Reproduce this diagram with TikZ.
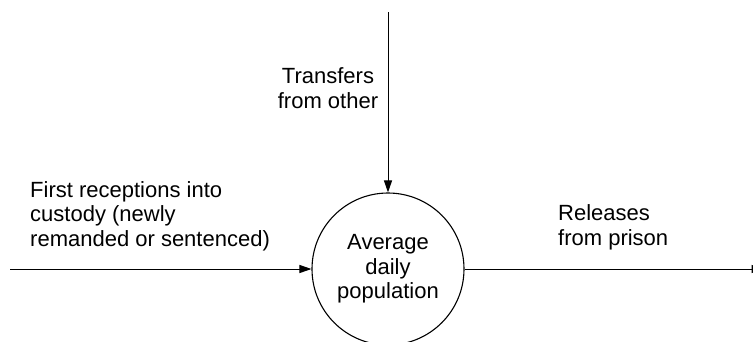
\documentclass[tikz,border=0pt]{standalone}
\usepackage{fontspec}
\setmainfont{Liberation Sans}
\usetikzlibrary{arrows.meta}
\begin{document}
\begin{tikzpicture}[x=1pt,y=-1pt,
  lbl/.style={font=\fontsize{22}{24.5}\selectfont, inner sep=0pt},
  flow/.style={line width=1pt, -{Triangle[length=12pt,width=8pt]}},
  stock/.style={circle, draw, line width=1.1pt, minimum size=152pt, inner sep=0pt, align=center, font=\fontsize{22}{24.5}\selectfont}]
\useasboundingbox (0,0) rectangle (753,341);
\clip (0,0) rectangle (753,341);
\node[stock] (adp) at (388,269) {Average\\daily\\population};
\coordinate (top) at (388,12);
\coordinate (left) at (10,269);
\coordinate (right) at (763.5,269);
\draw[flow] (top) -- (adp.north);
\draw[flow] (left) -- (adp.west);
\draw[flow] (adp.east) -- (right);
\node[lbl, align=center, anchor=base] (tr) at (328,108) {Transfers\\from other};
\node[lbl, align=left, anchor=base west] (fr) at (30,246) {First receptions into\\custody (newly\\remanded or sentenced)};
\node[lbl, align=left, anchor=base west] (rel) at (558,245) {Releases\\from prison};
\end{tikzpicture}
\end{document}
